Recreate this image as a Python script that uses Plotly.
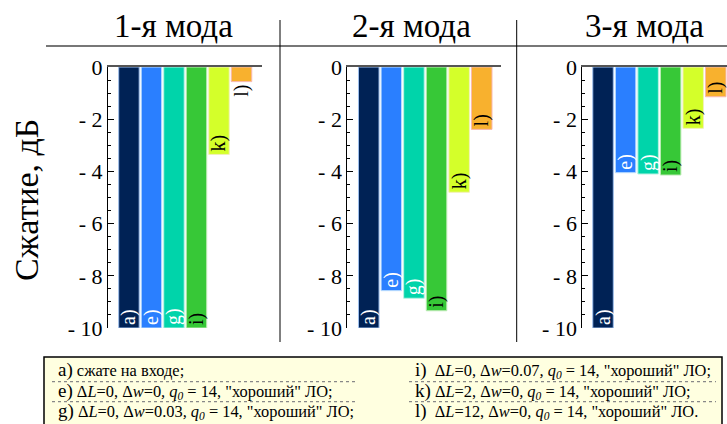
import plotly.graph_objects as go

W, H = 727, 424
MT, MB = 67, 96
PH = H - MT - MB

labels = ["a)", "e)", "g)", "i)", "k)", "l)"]
mode_titles = ["1-я мода", "2-я мода", "3-я мода"]
mode1 = [-10.0, -10.0, -10.0, -10.0, -3.35, -0.56]
mode2 = [-10.0, -8.57, -8.86, -9.34, -4.80, -2.39]
mode3 = [-10.0, -4.05, -4.10, -4.14, -2.35, -1.14]
modes = [mode1, mode2, mode3]

tick_vals = [0, -2, -4, -6, -8, -10]
tick_text = ["0", "- 2", "- 4", "- 6", "- 8", "- 10"]
y_title = "Сжатие, дБ"

legend_left = [
    ("a)", " сжате на входе;"),
    ("e)", " Δ<i>L</i>=0, Δ<i>w</i>=0<i>, q<sub>0</sub></i> = 14, \"хороший\" ЛО;"),
    ("g)", " Δ<i>L</i>=0, Δ<i>w</i>=0.03<i>, q<sub>0</sub></i> = 14, \"хороший\" ЛО;"),
]
legend_right = [
    ("i)", "  Δ<i>L</i>=0, Δ<i>w</i>=0.07<i>, q<sub>0</sub></i> = 14, \"хороший\" ЛО;"),
    ("k)", " Δ<i>L</i>=2, Δ<i>w</i>=0<i>, q<sub>0</sub></i> = 14, \"хороший\" ЛО;"),
    ("l)", "  Δ<i>L</i>=12, Δ<i>w</i>=0<i>, q<sub>0</sub></i> = 14, \"хороший\" ЛО."),
]

colors = ["#002255", "#2A7FFF", "#00D4AA", "#37C837", "#D4FF2A", "#F8B12E"]
edge_colors = ["#9fc0ee", "#bfe0ff", "#b8f2e2", "#c0ecb8", "#f2f0b8", "#f8b8b0"]
text_colors = ["white", "white", "white", "black", "black", "black"]

SERIF = "Liberation Serif, Times New Roman, serif"

panels = [
    (108.0, 262.0, [-0.93, 5.91]),
    (347.3, 500.7, [-0.95, 5.84]),
    (582.3, 727.0, [-0.92, 5.50]),
]


def px(x):
    return x / W


def py(y):
    return (H - MB - y) / PH


fig = go.Figure()
for i, vals in enumerate(modes):
    n = "" if i == 0 else str(i + 1)
    tpos = ["inside"] * len(vals)
    if i == 0:
        tpos[5] = "outside"
    fig.add_trace(go.Bar(
        x=list(range(len(labels))), y=vals, text=labels,
        textposition=tpos, insidetextanchor="end", textangle=-90,
        constraintext="none", cliponaxis=False,
        textfont=dict(family=SERIF, size=20, color=text_colors),
        outsidetextfont=dict(family=SERIF, size=20, color="black"),
        marker=dict(color=colors, line=dict(color=edge_colors, width=1)),
        xaxis="x" + n, yaxis="y" + n, showlegend=False, hoverinfo="skip",
    ))
    x0, x1, xr = panels[i]
    fig.update_layout(**{
        "xaxis" + n: dict(domain=[x0 / W, x1 / W], range=xr, side="top",
                          showline=True, linecolor="#555", linewidth=2,
                          showgrid=False, zeroline=False, showticklabels=False,
                          ticks="", anchor="y" + n),
        "yaxis" + n: dict(domain=[0, 1], range=[-10, 0], anchor="x" + n,
                          showline=True, linecolor="black", linewidth=1,
                          showgrid=False, zeroline=False,
                          tickvals=tick_vals, ticktext=tick_text,
                          ticks="inside", ticklen=6, tickcolor="black",
                          minor=dict(dtick=0.5, ticks="inside", ticklen=3, tickcolor="black"),
                          tickfont=dict(family=SERIF, size=22, color="black")),
    })

cx = [173, 411, 644]
for t, x in zip(mode_titles, cx):
    fig.add_annotation(text=t, x=px(x), y=py(26), xref="paper", yref="paper",
                       xanchor="center", yanchor="middle", showarrow=False,
                       font=dict(family=SERIF, size=33, color="black"))

fig.add_annotation(text=y_title, x=px(26), y=py(200), xref="paper", yref="paper",
                   textangle=-90, showarrow=False, xanchor="center", yanchor="middle",
                   font=dict(family=SERIF, size=34, color="black"))

shapes = []
shapes.append(dict(type="line", xref="paper", yref="paper", x0=px(46), x1=px(727),
                   y0=py(46), y1=py(46), line=dict(color="#777", width=2)))
for xs in [280, 516.7]:
    shapes.append(dict(type="line", xref="paper", yref="paper", x0=px(xs), x1=px(xs),
                       y0=py(20), y1=py(342), line=dict(color="black", width=1)))
shapes.append(dict(type="rect", xref="paper", yref="paper", x0=px(44), x1=px(722),
                   y0=py(357), y1=py(426), fillcolor="#FFFFE0",
                   line=dict(color="black", width=1.5), layer="below"))
for yy in [381.7, 401.7]:
    shapes.append(dict(type="line", xref="paper", yref="paper", x0=px(52), x1=px(355),
                       y0=py(yy), y1=py(yy), line=dict(color="#888", width=1.2, dash="dot")))
    shapes.append(dict(type="line", xref="paper", yref="paper", x0=px(409), x1=px(716),
                       y0=py(yy), y1=py(yy), line=dict(color="#888", width=1.2, dash="dot")))
fig.update_layout(shapes=shapes)

rows_y = [370, 391, 411]
for (lab, txt), yy in zip(legend_left, rows_y):
    fig.add_annotation(text=f"<span style='font-size:19px'>{lab}</span>{txt}",
                       x=px(56), y=py(yy), xref="paper", yref="paper",
                       xanchor="left", yanchor="middle", showarrow=False,
                       font=dict(family=SERIF, size=16.4, color="black"))
for (lab, txt), yy in zip(legend_right, rows_y):
    fig.add_annotation(text=f"<span style='font-size:19px'>{lab}</span>{txt}",
                       x=px(413), y=py(yy), xref="paper", yref="paper",
                       xanchor="left", yanchor="middle", showarrow=False,
                       font=dict(family=SERIF, size=16.4, color="black"))

fig.update_layout(width=W, height=H, margin=dict(l=0, r=0, t=MT, b=MB),
                  paper_bgcolor="white", plot_bgcolor="white",
                  bargap=0.09, font=dict(family=SERIF, color="black"))

fig.write_html("out.html", config={"displayModeBar": False},
               post_script="document.body.style.margin='0';")
